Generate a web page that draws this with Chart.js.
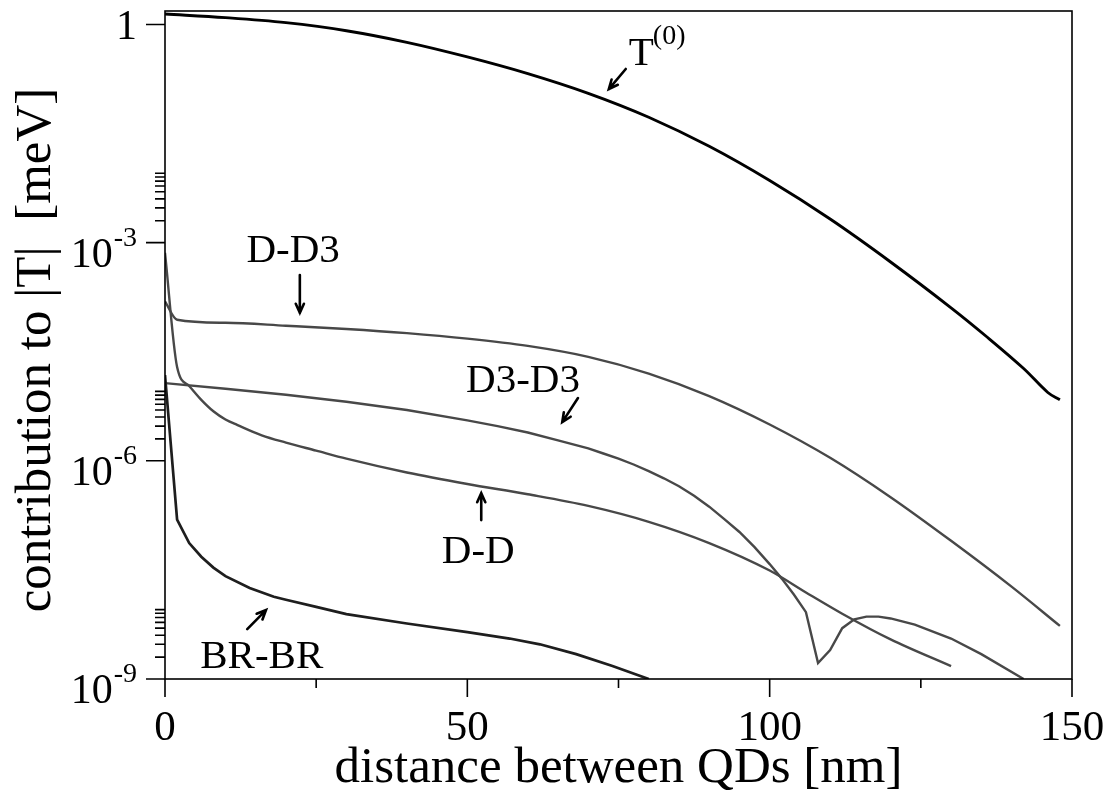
<!DOCTYPE html>
<html>
<head>
<meta charset="utf-8">
<script src="https://cdn.jsdelivr.net/npm/chart.js@4/dist/chart.umd.min.js"></script>
<style>
  html, body { margin: 0; padding: 0; background: #fff; }
  canvas { display: block; }
</style>
</head>
<body>
<canvas id="chart" width="1117" height="794"></canvas>
<script>
// Tunnelling contributions |T| versus dot separation (nm), values in meV.
const distT0 = [0, 10, 20, 30, 40, 50, 60, 70, 80, 90, 100, 110, 120, 130, 136, 142, 146, 148];
const valT0  = [1.39, 1.24, 1.057, 0.82, 0.568, 0.358, 0.211, 0.113, 0.053, 0.0211, 7.14e-3, 2.11e-3, 5.42e-4, 1.27e-4, 5.0e-5, 1.86e-5, 8.7e-6, 6.9e-6];

const distDD3 = [0, 2, 10, 20, 30, 40, 50, 60, 70, 80, 90, 100, 110, 120, 130, 140, 148];
const valDD3  = [1.55e-4, 8.7e-5, 7.9e-5, 7.2e-5, 6.5e-5, 5.7e-5, 4.79e-5, 3.8e-5, 2.69e-5, 1.585e-5, 7.76e-6, 3.16e-6, 1.1e-6, 3.16e-7, 7.94e-8, 1.86e-8, 5.37e-9];

const distD3D3 = [0, 10, 20, 30, 40, 50, 55, 60, 65, 70, 72.5, 75, 77.5, 80, 82.5, 85, 87.5, 90, 92.5, 95, 97.5, 100, 102, 104, 106,
                  108, 110, 112, 114, 116, 118, 120, 124, 130, 135, 142];
const valD3D3  = [1.17e-5, 9.8e-6, 8.1e-6, 6.5e-6, 5.0e-6, 3.6e-6, 3.0e-6, 2.45e-6, 1.91e-6, 1.48e-6, 1.26e-6, 1.07e-6, 8.9e-7, 7.2e-7, 5.75e-7, 4.47e-7, 3.31e-7, 2.34e-7, 1.58e-7, 1.05e-7, 6.5e-8, 3.8e-8, 2.4e-8, 1.45e-8, 8.3e-9,
                  1.66e-9, 2.5e-9, 5.0e-9, 6.6e-9, 7.2e-9, 7.2e-9, 6.8e-9, 5.6e-9, 3.6e-9, 2.2e-9, 1.0e-9];

const distDD = [0, 2, 4, 6, 8, 10, 12, 16, 20, 25, 30, 40, 50, 60, 70, 80, 90, 100, 106, 112, 120, 130];
const valDD  = [7.24e-4, 1.95e-5, 1.07e-5, 6.9e-6, 4.8e-6, 3.7e-6, 3.1e-6, 2.24e-6, 1.78e-6, 1.38e-6, 1.07e-6, 6.9e-7, 4.8e-7, 3.47e-7, 2.4e-7, 1.45e-7, 7.4e-8, 3.1e-8, 1.55e-8, 7.9e-9, 3.5e-9, 1.5e-9];

const distBR = [0, 2, 4, 6, 8, 10, 14, 18, 20, 25, 30, 40, 50, 57, 62, 68, 74, 80];
const valBR  = [1.51e-5, 1.55e-7, 7.4e-8, 4.8e-8, 3.4e-8, 2.6e-8, 1.78e-8, 1.35e-8, 1.23e-8, 9.8e-9, 7.8e-9, 5.8e-9, 4.4e-9, 3.6e-9, 3.0e-9, 2.2e-9, 1.51e-9, 1.0e-9];

// Axis ticks
const xMajorTicks = [0, 50, 100, 150];
const xTickLabels = ['0', '50', '100', '150'];
const xMinorTicks = [25, 75, 125];
const yMajorTicks = [1, 1e-3, 1e-6, 1e-9];
const yTickBase   = ['1', '10', '10', '10'];
const yTickExp    = ['', '-3', '-6', '-9'];
const yMinorTicks = [2e-3, 3e-3, 4e-3, 5e-3, 6e-3, 7e-3, 8e-3, 9e-3,
                     2e-6, 3e-6, 4e-6, 5e-6, 6e-6, 7e-6, 8e-6, 9e-6,
                     2e-9, 3e-9, 4e-9, 5e-9, 6e-9, 7e-9, 8e-9, 9e-9];

// Curve labels: text anchor and arrow (tail -> tip) in data coordinates
const curveNotes = [
  { text: 'T', sup: '(0)', x: 76.7, y: 0.277, align: 'left', tail: [76.2, 0.244], tip: [73.4, 0.129] },
  { text: 'D-D3',  x: 21.2, y: 5.4e-4, align: 'center', tail: [22.3, 3.58e-4], tip: [22.3, 1.08e-4] },
  { text: 'D3-D3', x: 59.2, y: 8.8e-6, align: 'center', tail: [68.3, 7.3e-6],  tip: [65.7, 3.4e-6] },
  { text: 'D-D',   x: 51.8, y: 3.9e-8, align: 'center', tail: [52.3, 1.53e-7], tip: [52.3, 3.6e-7] },
  { text: 'BR-BR', x: 16.0, y: 1.41e-9, align: 'center', tail: [13.6, 4.85e-9], tip: [16.7, 8.85e-9] }
];

const serif = "'Liberation Serif', 'Times New Roman', serif";
const pts = (xs, ys) => xs.map((v, i) => ({ x: v, y: ys[i] }));

const decor = {
  id: 'decor',
  afterDraw(chart) {
    const { ctx, chartArea: a, scales: { x, y } } = chart;
    ctx.save();
    ctx.strokeStyle = '#000';
    ctx.fillStyle = '#000';
    ctx.lineWidth = 1.6;
    ctx.strokeRect(a.left, a.top, a.right - a.left, a.bottom - a.top);

    ctx.beginPath();
    xMajorTicks.forEach(v => { const p = x.getPixelForValue(v); ctx.moveTo(p, a.bottom); ctx.lineTo(p, a.bottom + 18); });
    xMinorTicks.forEach(v => { const p = x.getPixelForValue(v); ctx.moveTo(p, a.bottom); ctx.lineTo(p, a.bottom + 9); });
    yMajorTicks.forEach(v => { const p = y.getPixelForValue(v); ctx.moveTo(a.left - 19, p); ctx.lineTo(a.left, p); });
    yMinorTicks.forEach(v => { const p = y.getPixelForValue(v); ctx.moveTo(a.left - 10, p); ctx.lineTo(a.left, p); });
    ctx.stroke();

    // x tick labels
    ctx.font = `43px ${serif}`;
    ctx.textAlign = 'center';
    ctx.textBaseline = 'alphabetic';
    xMajorTicks.forEach((v, i) => ctx.fillText(xTickLabels[i], x.getPixelForValue(v), a.bottom + 61));

    // y tick labels with superscript exponents
    const rightEdge = a.left - 28;
    yMajorTicks.forEach((v, i) => {
      const p = y.getPixelForValue(v);
      ctx.textAlign = 'right';
      if (!yTickExp[i]) {
        ctx.font = `42px ${serif}`;
        ctx.fillText(yTickBase[i], rightEdge, p + 15);
      } else {
        ctx.font = `28px ${serif}`;
        const w = ctx.measureText(yTickExp[i]).width;
        ctx.fillText(yTickExp[i], rightEdge, p + 3);
        ctx.font = `42px ${serif}`;
        ctx.fillText(yTickBase[i], rightEdge - w - 1, p + 24);
      }
    });

    // axis titles
    ctx.font = `51px ${serif}`;
    ctx.textAlign = 'center';
    ctx.fillText('distance between QDs [nm]', (a.left + a.right) / 2, 782);
    ctx.save();
    ctx.translate(50, 350);
    ctx.rotate(-Math.PI / 2);
    ctx.fillText('contribution to |T|  [meV]', 0, 0);
    ctx.restore();

    // curve labels and arrows
    ctx.lineWidth = 2.6;
    ctx.lineCap = 'round';
    ctx.lineJoin = 'miter';
    curveNotes.forEach(n => {
      const tx = x.getPixelForValue(n.x), ty = y.getPixelForValue(n.y);
      ctx.font = `41px ${serif}`;
      ctx.textAlign = n.align;
      ctx.fillText(n.text, tx, ty);
      if (n.sup) {
        const w = ctx.measureText(n.text).width;
        ctx.font = `28px ${serif}`;
        ctx.textAlign = 'left';
        ctx.fillText(n.sup, tx + w - 1, ty - 21);
      }
      const x0 = x.getPixelForValue(n.tail[0]), y0 = y.getPixelForValue(n.tail[1]);
      const x1 = x.getPixelForValue(n.tip[0]),  y1 = y.getPixelForValue(n.tip[1]);
      const ang = Math.atan2(y1 - y0, x1 - x0);
      const h = 10, spread = 0.42;
      ctx.beginPath();
      ctx.moveTo(x0, y0); ctx.lineTo(x1, y1);
      ctx.moveTo(x1 - h * Math.cos(ang - spread), y1 - h * Math.sin(ang - spread));
      ctx.lineTo(x1, y1);
      ctx.lineTo(x1 - h * Math.cos(ang + spread), y1 - h * Math.sin(ang + spread));
      ctx.stroke();
    });
    ctx.restore();
  }
};

// mode: 'spline' (smooth cardinal), 'monotone', or 'straight'
const line = (label, xs, ys, color, width, mode) => ({
  label, data: pts(xs, ys), borderColor: color, borderWidth: width,
  pointRadius: 0, fill: false,
  tension: mode === 'spline' ? 0.35 : 0,
  cubicInterpolationMode: mode === 'monotone' ? 'monotone' : 'default'
});

new Chart(document.getElementById('chart'), {
  type: 'line',
  data: {
    datasets: [
      line('T(0)', distT0, valT0, '#000000', 2.9, 'spline'),
      line('BR-BR', distBR, valBR, '#1e1e1e', 2.7, 'straight'),
      line('D-D3', distDD3, valDD3, '#484848', 2.4, 'monotone'),
      line('D-D', distDD, valDD, '#484848', 2.4, 'monotone'),
      line('D3-D3', distD3D3, valD3D3, '#484848', 2.4, 'straight')
    ]
  },
  options: {
    responsive: false,
    animation: false,
    devicePixelRatio: 1,
    layout: { padding: { top: 11, right: 45, left: 0, bottom: 0 } },
    plugins: { legend: { display: false }, tooltip: { enabled: false } },
    scales: {
      x: {
        type: 'linear', min: 0, max: 150,
        ticks: { display: false }, grid: { display: false }, border: { display: false },
        afterFit: s => { s.height = 115; }
      },
      y: {
        type: 'logarithmic', min: 1e-9, max: 1.53,
        ticks: { display: false }, grid: { display: false }, border: { display: false },
        afterFit: s => { s.width = 165; }
      }
    }
  },
  plugins: [decor]
});
</script>
</body>
</html>
